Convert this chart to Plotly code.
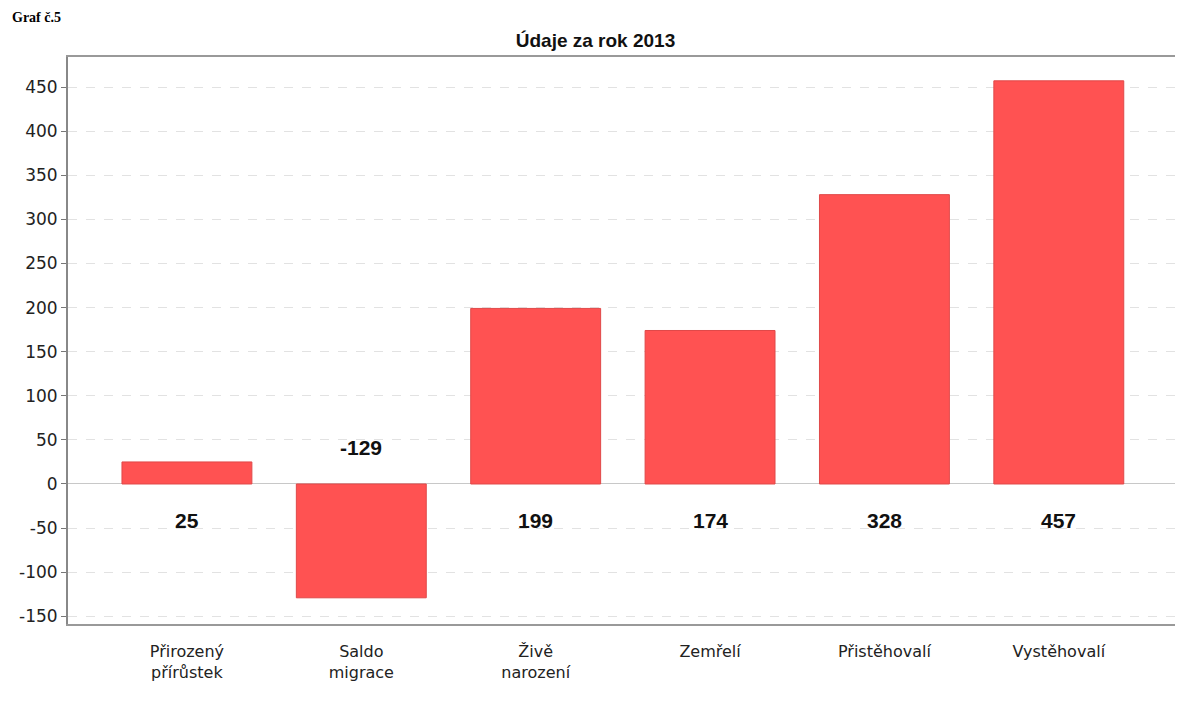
import plotly.graph_objects as go

# data
categories = ["Přirozený<br>přírůstek", "Saldo<br>migrace", "Živě<br>narození",
              "Zemřelí", "Přistěhovalí", "Vystěhovalí"]
values = [25, -129, 199, 174, 328, 457]
y_ticks = [-150, -100, -50, 0, 50, 100, 150, 200, 250, 300, 350, 400, 450]

BAR = "#ff5252"

fig = go.Figure(go.Bar(
    x=list(range(len(categories))), y=values,
    marker=dict(color=BAR, line=dict(color="#e04848", width=1)),
    width=0.745, hoverinfo="x+y",
))

# value labels sit on the other side of the zero line
for i, v in enumerate(values):
    fig.add_annotation(
        x=i, y=0, text=f"<b>{v}</b>", showarrow=False,
        yshift=-37 if v > 0 else 36,
        font=dict(family="Arial", size=21, color="#111111"),
    )

# caption at the very top
fig.add_annotation(
    xref="paper", yref="paper", x=-0.052, y=1.0, xanchor="left", yanchor="top",
    yshift=49, text="<b>Graf č.5</b>", showarrow=False,
    font=dict(family="Liberation Serif", size=14, color="#000000"),
)

# page body has an 8px margin, so the figure is a bit smaller than the window
fig.update_layout(
    width=1175, height=693,
    margin=dict(l=60, r=3, t=49, b=77),
    paper_bgcolor="white", plot_bgcolor="white",
    showlegend=False,
    title=dict(text="<b>Údaje za rok 2013</b>", x=0.5, xanchor="center",
               y=0.954, yanchor="middle",
               font=dict(family="Arial", size=19, color="#111111")),
    font=dict(family="DejaVu Sans", size=13, color="#222222"),
)

fig.update_xaxes(
    tickmode="array", tickvals=list(range(len(categories))), ticktext=categories,
    range=[-0.682, 5.695], showgrid=False, ticks="", automargin=False,
    ticklabelstandoff=12,
    showline=True, linecolor="#999999", linewidth=2, mirror=True,
    tickfont=dict(family="DejaVu Sans", size=16, color="#222222"),
)
fig.update_yaxes(
    tickmode="array", tickvals=y_ticks, ticktext=[str(t) for t in y_ticks],
    range=[-158.7, 484], automargin=False,
    showgrid=True, gridcolor="#e2e2e2", griddash="dash", gridwidth=1,
    zeroline=True, zerolinecolor="#c8c8c8", zerolinewidth=1,
    ticks="outside", ticklen=5, tickcolor="#777777",
    showline=True, linecolor="#888888", linewidth=2, mirror=True,
    tickfont=dict(family="DejaVu Sans", size=17, color="#222222"),
)

fig.write_html("out.html")
